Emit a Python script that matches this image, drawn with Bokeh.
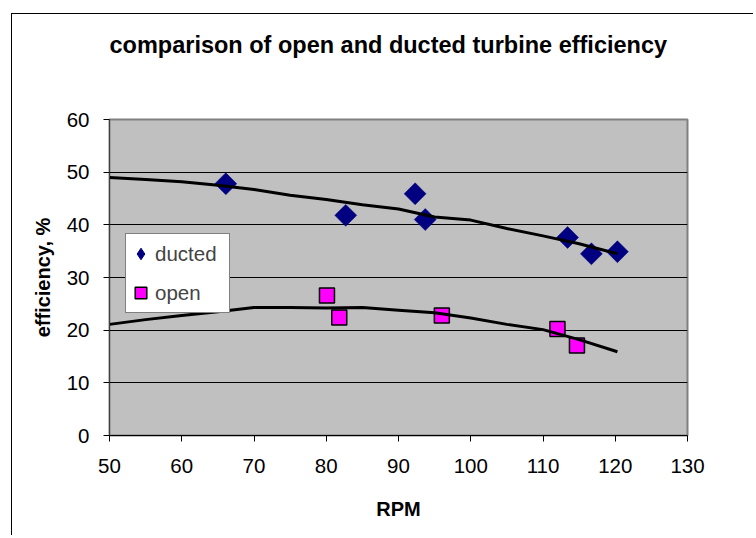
from math import pi
from bokeh.plotting import figure
from bokeh.models import Range1d, FixedTicker, Legend, LegendItem, Title
from bokeh.embed import file_html
from bokeh.resources import INLINE

# ---- data ----
ducted_rpm = [66.1, 82.7, 92.3, 93.7, 113.4, 116.7, 120.3]
ducted_eff = [47.8, 41.8, 45.9, 41.0, 37.6, 34.5, 34.9]
open_rpm = [80.1, 81.8, 96.0, 112.0, 114.7]
open_eff = [26.6, 22.4, 22.8, 20.2, 17.1]

trend_rpm = [50, 55, 60, 65, 70, 75, 80, 85, 90, 95, 100, 105, 110, 115, 120.3]
ducted_trend = [49.0, 48.6, 48.2, 47.5, 46.7, 45.6, 44.8, 43.8, 43.0, 41.5, 40.9, 39.3, 37.9, 36.4, 34.5]
open_trend = [21.1, 22.0, 22.8, 23.5, 24.3, 24.3, 24.2, 24.3, 23.8, 23.3, 22.3, 21.1, 20.1, 18.2, 15.9]

x_ticks = [50, 60, 70, 80, 90, 100, 110, 120, 130]
y_ticks = [0, 10, 20, 30, 40, 50, 60]
grid_ticks = [10, 20, 30, 40, 50]

title_text = "comparison of open and ducted turbine efficiency"
x_title = "RPM"
y_title = "efficiency, %"
series_names = ["ducted", "open"]

FONT = "Liberation Sans"

p = figure(output_backend="svg", toolbar_location=None,
           frame_width=578, frame_height=316,
           min_border_left=97, min_border_top=105,
           min_border_right=66, min_border_bottom=100,
           x_range=Range1d(50, 130), y_range=Range1d(0, 60))
p.styles = {"position": "relative", "left": "11px", "top": "13px",
            "border-left": "1px solid black", "border-top": "1px solid black"}

p.background_fill_color = "#C0C0C0"
p.border_fill_color = "white"
p.outline_line_color = "#808080"
p.outline_line_width = 2

# title (outermost) with a spacer between it and the frame
p.title.text = title_text
p.title.align = "left"
p.title.offset = 0
p.title.vertical_align = "top"
p.title.standoff = 33
p.title.text_font = FONT
p.title.text_font_size = "23.5px"
p.title.text_font_style = "bold"
p.title.text_color = "black"
spacer = Title(text=" ", text_font_size="10px", standoff=30, text_color="white")
p.add_layout(spacer, "above")

p.xgrid.visible = False
p.ygrid.ticker = FixedTicker(ticks=grid_ticks)
p.ygrid.grid_line_color = "black"
p.ygrid.grid_line_width = 1

for ax, ticks in ((p.xaxis, x_ticks), (p.yaxis, y_ticks)):
    ax.ticker = FixedTicker(ticks=ticks)
    ax.minor_tick_line_color = None
    ax.major_tick_in = 0
    ax.major_tick_out = 6
    ax.major_tick_line_color = "black"
    ax.axis_line_color = "black"
    ax.major_label_text_font = FONT
    ax.major_label_text_font_size = "20.5px"
    ax.major_label_text_color = "black"
    ax.axis_label_text_font = FONT
    ax.axis_label_text_font_size = "20px"
    ax.axis_label_text_font_style = "bold"
    ax.axis_label_text_color = "black"
p.yaxis.axis_line_color = "#404040"

p.xaxis.axis_label = x_title
p.yaxis.axis_label = y_title
p.xaxis.major_label_standoff = 17
p.yaxis.major_label_standoff = 14
p.xaxis.axis_label_standoff = 22
p.yaxis.axis_label_standoff = 10

# legend-key renderer: small diamonds hidden underneath the real markers
r_d_key = p.scatter(ducted_rpm, ducted_eff, marker="diamond", size=10,
                    fill_color="#000080", line_color="#000080")
r_d = p.scatter(ducted_rpm, ducted_eff, marker="square", angle=pi / 4, size=15.5,
                fill_color="#000080", line_color="#000080", line_width=0.5)
r_o = p.scatter(open_rpm, open_eff, marker="square", size=15,
                fill_color="#FF00FF", line_color="black", line_width=1.5)

p.line(trend_rpm, ducted_trend, line_color="black", line_width=3)
p.line(trend_rpm, open_trend, line_color="black", line_width=3)

legend = Legend(items=[LegendItem(label=series_names[0], renderers=[r_d_key]),
                       LegendItem(label=series_names[1], renderers=[r_o])],
                location=(16, 122), orientation="vertical",
                border_line_color="black", border_line_width=1,
                background_fill_color="white", background_fill_alpha=1,
                padding=0, spacing=0, margin=0,
                glyph_width=29, glyph_height=39, label_standoff=0, label_width=74,
                label_text_font=FONT, label_text_font_size="20.5px")
p.add_layout(legend)

open("out.html", "w").write(file_html(p, INLINE))
